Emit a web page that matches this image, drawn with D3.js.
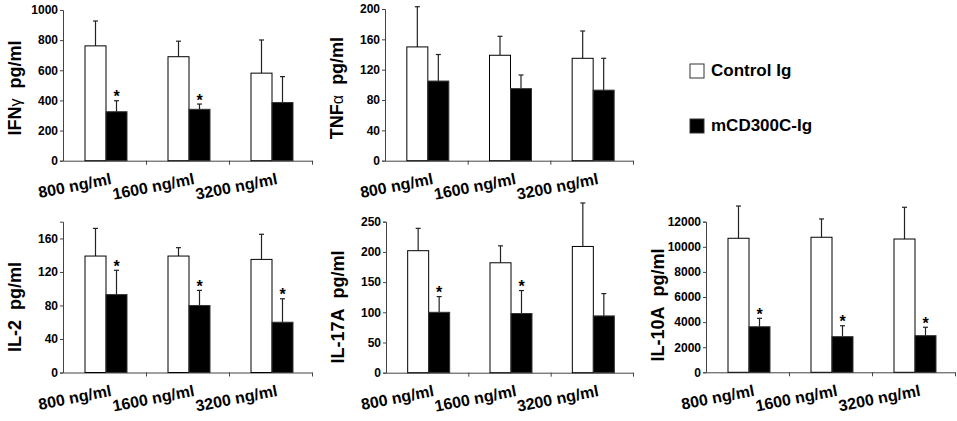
<!DOCTYPE html>
<html>
<head>
<meta charset="utf-8">
<script src="https://cdn.jsdelivr.net/npm/d3@7"></script>
<style>
body { margin:0; background:#fff; }
svg text { font-family: "Liberation Sans", Arial, sans-serif; font-weight: bold; }
</style>
</head>
<body>
<div id="chart"></div>
<script>

// doses on the x axis
var categories = ["800 ng/ml", "1600 ng/ml", "3200 ng/ml"]
var groups = ["Control Ig", "mCD300C-Ig"]

// means and upward error (sd)
var ifngCtrl = [762, 690, 581],      ifngCtrlErr = [165, 103, 220]
var ifngMcd  = [325, 341, 386],      ifngMcdErr  = [73, 35, 172]
var ifngSig  = [1, 1, 0]

var tnfCtrl = [150, 139, 135],       tnfCtrlErr = [53, 25, 36]
var tnfMcd  = [105, 95, 93],         tnfMcdErr  = [35, 18, 42]
var tnfSig  = [0, 0, 0]

var il2Ctrl = [139, 139, 135],       il2CtrlErr = [33, 10, 30]
var il2Mcd  = [93, 80, 60],          il2McdErr  = [29, 18, 28]
var il2Sig  = [1, 1, 1]

var il17Ctrl = [202, 182, 209],      il17CtrlErr = [37, 28, 72]
var il17Mcd  = [100, 98, 94],        il17McdErr  = [26, 38, 37]
var il17Sig  = [1, 1, 0]

var il10Ctrl = [10680, 10760, 10620], il10CtrlErr = [2570, 1460, 2530]
var il10Mcd  = [3630, 2840, 2920],    il10McdErr  = [670, 870, 670]
var il10Sig  = [1, 1, 1]

// y tick values per panel
var ifngTicks = [0, 200, 400, 600, 800, 1000]
var tnfTicks  = [0, 40, 80, 120, 160, 200]
var il2Ticks  = [0, 40, 80, 120, 160]
var il17Ticks = [0, 50, 100, 150, 200, 250]
var il10Ticks = [0, 2000, 4000, 6000, 8000, 10000, 12000]

var panels = [
  {label:"IFN", greek:"γ", ctrl:ifngCtrl, ce:ifngCtrlErr, mcd:ifngMcd, me:ifngMcdErr, sig:ifngSig, ticks:ifngTicks, max:1000,
   left:63, right:312, top:10, bottom:160.7, ly:88},
  {label:"TNF", greek:"α", ctrl:tnfCtrl, ce:tnfCtrlErr, mcd:tnfMcd, me:tnfMcdErr, sig:tnfSig, ticks:tnfTicks, max:200,
   left:385, right:633, top:9, bottom:160.7, ly:88},
  {label:"IL-2", greek:"", ctrl:il2Ctrl, ce:il2CtrlErr, mcd:il2Mcd, me:il2McdErr, sig:il2Sig, ticks:il2Ticks, max:180,
   left:63, right:312, top:221.7, bottom:372.5, ly:307},
  {label:"IL-17A", greek:"", ctrl:il17Ctrl, ce:il17CtrlErr, mcd:il17Mcd, me:il17McdErr, sig:il17Sig, ticks:il17Ticks, max:250,
   left:386, right:633, top:221.7, bottom:372.7, ly:307},
  {label:"IL-10A", greek:"", ctrl:il10Ctrl, ce:il10CtrlErr, mcd:il10Mcd, me:il10McdErr, sig:il10Sig, ticks:il10Ticks, max:12000,
   left:706, right:955, top:221.7, bottom:372.3, ly:305}
]

var svg = d3.select("#chart").append("svg").attr("width", 957).attr("height", 421)

var barW = 21

panels.forEach(function(p){

  var x = d3.scaleBand().domain(categories).range([p.left, p.right]).padding(0)
  var xb = d3.scaleLinear().domain([0, 3]).range([p.left, p.right])
  var y = d3.scaleLinear().domain([0, p.max]).range([p.bottom, p.top])

  var g = svg.append("g")

  // y axis
  var ya = g.append("g").attr("transform", "translate(" + p.left + ",0)")
    .call(d3.axisLeft(y).tickValues(p.ticks).tickSize(3).tickPadding(2).tickFormat(d3.format("d")))
  ya.select(".domain").attr("stroke", "#444")
  ya.selectAll(".tick line").attr("stroke", "#444")
  ya.selectAll("text").attr("font-size", 12).attr("fill", "#000")

  // x axis, ticks on the band edges
  var xa = g.append("g").attr("transform", "translate(0," + p.bottom + ")")
    .call(d3.axisBottom(xb).tickValues([1, 2, 3]).tickSize(4).tickSizeOuter(0).tickFormat(""))
  xa.select(".domain").attr("stroke", "#444")
  xa.selectAll(".tick line").attr("stroke", "#444")

  // x labels, tilted
  g.append("g").selectAll("text").data(categories).enter().append("text")
    .attr("transform", function(d){
      var cx = x(d) + x.bandwidth()/2 + 7.5
      return "translate(" + cx + "," + (p.bottom + 23.3) + ") rotate(-11)"
    })
    .attr("text-anchor", "end").attr("font-size", 16).text(function(d){ return d })

  // y label
  var yl = g.append("text")
    .attr("transform", "translate(" + (p.left - 48) + "," + p.ly + ") rotate(-90)")
    .attr("text-anchor", "middle").attr("dy", "0.36em").attr("font-size", 18)
  yl.append("tspan").text(p.label)
  if (p.greek) yl.append("tspan").attr("font-weight", "normal").attr("font-size", 16).text(p.greek)
  yl.append("tspan").text("\u00a0\u00a0pg/ml")

  var rows = categories.map(function(c, i){
    return [
      {cat:c, v:p.ctrl[i], e:p.ce[i], k:0, sig:0},
      {cat:c, v:p.mcd[i], e:p.me[i], k:1, sig:p.sig[i]}
    ]
  }).flat()

  function bx(d){ return x(d.cat) + x.bandwidth()/2 - barW + 1.5 + d.k*barW }

  // error bars (upward only)
  var eb = g.append("g").selectAll("g").data(rows).enter().append("g")
  eb.append("line")
    .attr("x1", function(d){ return bx(d) + barW/2 }).attr("x2", function(d){ return bx(d) + barW/2 })
    .attr("y1", function(d){ return y(d.v) }).attr("y2", function(d){ return y(d.v + d.e) })
    .attr("stroke", "#222").attr("stroke-width", 1.2)
  eb.append("line")
    .attr("x1", function(d){ return bx(d) + barW/2 - 2.5 }).attr("x2", function(d){ return bx(d) + barW/2 + 2.5 })
    .attr("y1", function(d){ return y(d.v + d.e) }).attr("y2", function(d){ return y(d.v + d.e) })
    .attr("stroke", "#222").attr("stroke-width", 1.2)

  // bars
  g.append("g").selectAll("rect").data(rows).enter().append("rect")
    .attr("x", bx).attr("y", function(d){ return y(d.v) })
    .attr("width", barW).attr("height", function(d){ return p.bottom - y(d.v) })
    .attr("fill", function(d){ return d.k ? "#000" : "#fff" })
    .attr("stroke", function(d){ return d.k ? "#333" : "#000" }).attr("stroke-width", 1)

  // significance stars
  g.append("g").selectAll("text").data(rows.filter(function(d){ return d.sig })).enter().append("text")
    .attr("x", function(d){ return bx(d) + barW/2 }).attr("y", function(d){ return y(d.v + d.e) + 1.5 })
    .attr("text-anchor", "middle").attr("font-size", 16).text("*")
})

// legend
var lg = svg.append("g").selectAll("g").data(groups).enter().append("g")
  .attr("transform", function(d, i){ return "translate(690," + (64 + i*55) + ")" })
lg.append("rect").attr("width", 14).attr("height", 14)
  .attr("fill", function(d, i){ return i ? "#000" : "#fff" }).attr("stroke", "#333")
lg.append("text").attr("x", 21).attr("y", 12).attr("font-size", 17).text(function(d){ return d })

</script>
</body>
</html>
